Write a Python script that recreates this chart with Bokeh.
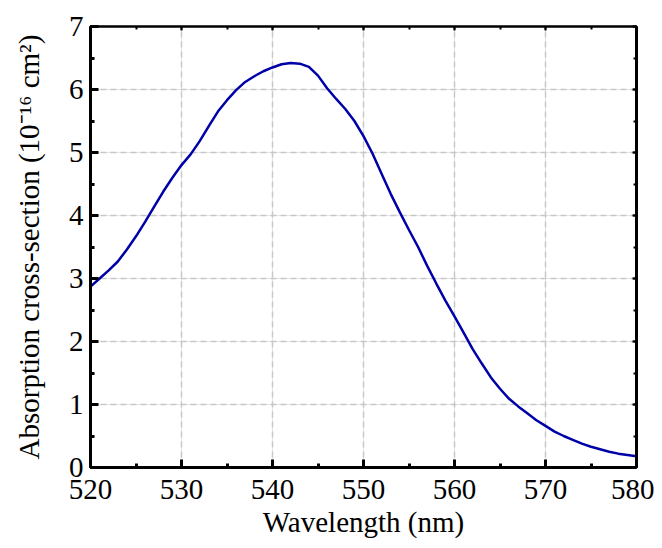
from bokeh.plotting import figure
from bokeh.models import Range1d, LinearAxis, SingleIntervalTicker, ColumnDataSource, Grid, CustomJSTickFormatter
from bokeh.embed import file_html
from bokeh.resources import INLINE

wavelength = list(range(520, 581))
cross_section = [
    2.87, 3.00, 3.13, 3.27, 3.46, 3.67, 3.90, 4.14, 4.38, 4.60,
    4.80, 4.97, 5.18, 5.42, 5.65, 5.83, 5.99, 6.12, 6.21, 6.29,
    6.35, 6.40, 6.42, 6.41, 6.36, 6.22, 6.02, 5.85, 5.69, 5.50,
    5.26, 4.98, 4.66, 4.34, 4.05, 3.77, 3.50, 3.20, 2.92, 2.65,
    2.40, 2.14, 1.88, 1.65, 1.43, 1.25, 1.09, 0.97, 0.86, 0.75,
    0.66, 0.57, 0.50, 0.44, 0.38, 0.33, 0.29, 0.25, 0.22, 0.20,
    0.18,
]
x_label = "Wavelength (nm)"
y_label = "Absorption cross-section (10\u207b\u00b9\u2076 cm\u00b2)"

FONT = "Liberation Serif"

p = figure(width=654, height=540, output_backend="svg", toolbar_location=None,
           x_range=Range1d(520, 580), y_range=Range1d(0, 7),
           min_border_left=90, min_border_right=18, min_border_top=26, min_border_bottom=73,
           x_axis_location=None, y_axis_location=None)
p.background_fill_color = "white"
p.border_fill_color = "white"
p.outline_line_color = "black"
p.outline_line_width = 2

src = ColumnDataSource(dict(x=wavelength, y=cross_section))
p.line("x", "y", source=src, line_color="#0000A8", line_width=2.5)

xt = SingleIntervalTicker(interval=10, num_minor_ticks=2)
yt = SingleIntervalTicker(interval=1, num_minor_ticks=2)

def style(ax, labels=True, big=True):
    ax.axis_line_width = 3 if big else 2
    ax.axis_line_color = "black"
    ax.major_tick_in = 8 if big else 4
    ax.major_tick_out = 0
    ax.minor_tick_in = 4 if big else 3
    ax.minor_tick_out = 0
    ax.major_tick_line_width = 3 if big else 2
    ax.minor_tick_line_width = 3 if big else 2
    ax.major_tick_line_color = "black"
    ax.minor_tick_line_color = "black"
    if labels:
        ax.major_label_text_font = FONT
        ax.major_label_text_font_size = "29px"
        ax.major_label_text_color = "black"
        ax.axis_label_text_font = FONT
        ax.axis_label_text_font_size = "29px"
        ax.axis_label_text_font_style = "normal"
        ax.axis_label_text_color = "black"
    else:
        ax.formatter = CustomJSTickFormatter(code="return ''")
        ax.major_label_standoff = 0

xb = LinearAxis(ticker=xt, axis_label=x_label)
style(xb)
xb.major_label_standoff = 12
xb.axis_label_standoff = 4
p.add_layout(xb, "below")

yl = LinearAxis(ticker=yt, axis_label=y_label)
style(yl)
yl.major_label_standoff = 7
yl.axis_label_standoff = 21
p.add_layout(yl, "left")

xa = LinearAxis(ticker=xt)
style(xa, labels=False, big=False)
p.add_layout(xa, "above")

yr = LinearAxis(ticker=yt)
style(yr, labels=False, big=True)
yr.major_tick_in = 4
yr.minor_tick_in = 3
yr.major_tick_line_width = 2
yr.minor_tick_line_width = 2
p.add_layout(yr, "right")

p.add_layout(Grid(dimension=0, ticker=xt, grid_line_color="#c8c8c8",
                  grid_line_dash="6 4", grid_line_width=1.5))
p.add_layout(Grid(dimension=1, ticker=yt, grid_line_color="#c8c8c8",
                  grid_line_dash="6 4", grid_line_width=1.5))

open("out.html", "w").write(file_html(p, INLINE))
